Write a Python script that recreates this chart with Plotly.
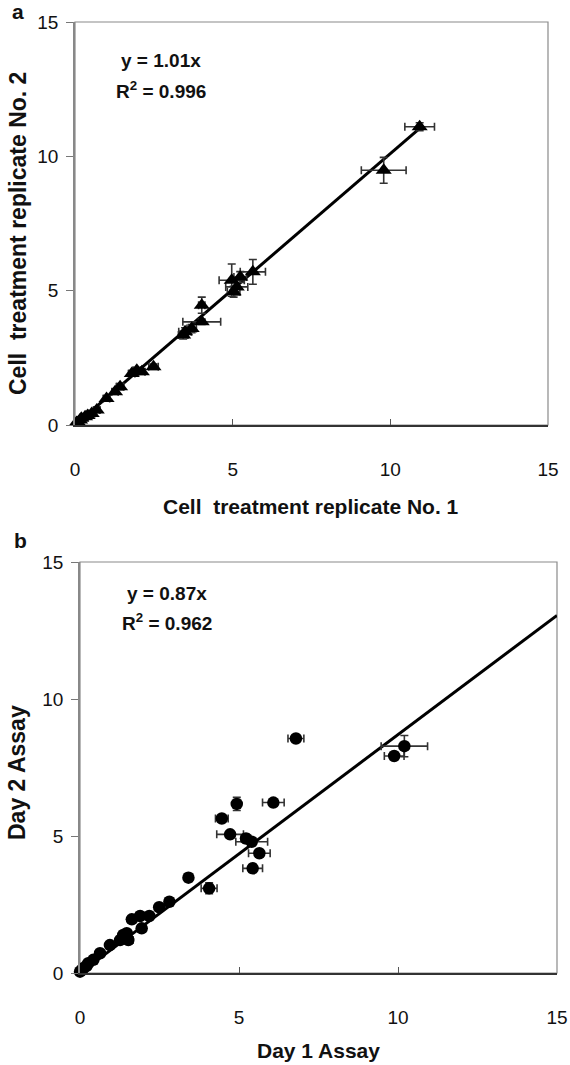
import plotly.graph_objects as go

# ---------------- data ----------------
# Panel a: Cell treatment replicate No.1 (x) vs No.2 (y)
a_x = [0.05, 0.10, 0.16, 0.20, 0.32, 0.40, 0.53, 0.69, 1.00, 1.27, 1.43, 1.80, 1.96, 2.12, 2.49,
       3.43, 3.49, 3.70, 4.02, 4.02, 4.97, 5.03, 5.13, 5.24, 5.64, 9.79, 10.93]
a_y = [0.09, 0.10, 0.19, 0.25, 0.31, 0.35, 0.43, 0.56, 0.99, 1.24, 1.42, 1.92, 2.04, 1.98, 2.17,
       3.35, 3.47, 3.59, 3.84, 4.46, 5.39, 4.96, 5.14, 5.51, 5.70, 9.48, 11.10]
a_xerr = [0.05, 0.05, 0.08, 0.05, 0.10, 0.08, 0.10, 0.10, 0.10, 0.10, 0.12, 0.10, 0.12, 0.10, 0.15,
          0.15, 0.20, 0.15, 0.60, 0.10, 0.40, 0.20, 0.35, 0.20, 0.40, 0.71, 0.47]
a_yerr = [0.05, 0.05, 0.08, 0.05, 0.10, 0.08, 0.10, 0.10, 0.10, 0.10, 0.12, 0.10, 0.10, 0.10, 0.10,
          0.15, 0.15, 0.15, 0.10, 0.30, 0.60, 0.20, 0.30, 0.20, 0.46, 0.48, 0.15]
a_slope = 1.01
a_r2 = "0.996"

# Panel b: Day 1 Assay (x) vs Day 2 Assay (y)
b_x = [0.00, 0.05, 0.10, 0.20, 0.26, 0.42, 0.63, 0.94, 1.26, 1.36, 1.47, 1.52, 1.63, 1.89, 1.94,
       2.18, 2.49, 2.81, 3.41, 4.06, 4.46, 4.72, 4.93, 5.22, 5.40, 5.43, 5.64, 6.08, 6.79, 9.88, 10.20]
b_y = [0.05, 0.10, 0.17, 0.25, 0.36, 0.48, 0.72, 1.02, 1.20, 1.39, 1.45, 1.20, 1.96, 2.08, 1.63,
       2.08, 2.40, 2.60, 3.48, 3.09, 5.64, 5.06, 6.17, 4.91, 4.79, 3.82, 4.37, 6.22, 8.56, 7.92, 8.28]
b_xerr = [0.05, 0.05, 0.05, 0.05, 0.08, 0.10, 0.10, 0.10, 0.10, 0.10, 0.12, 0.15, 0.10, 0.10, 0.12,
          0.10, 0.10, 0.12, 0.10, 0.25, 0.20, 0.42, 0.10, 0.15, 0.50, 0.31, 0.34, 0.34, 0.25, 0.31, 0.73]
b_yerr = [0.05, 0.05, 0.05, 0.05, 0.08, 0.10, 0.10, 0.10, 0.10, 0.10, 0.12, 0.15, 0.10, 0.10, 0.12,
          0.10, 0.10, 0.12, 0.15, 0.20, 0.10, 0.10, 0.24, 0.15, 0.10, 0.15, 0.10, 0.10, 0.10, 0.10, 0.39]
b_slope = 0.87
b_r2 = "0.962"

tick_vals = [0, 5, 10, 15]
tick_text = ["0", "5", "10", "15"]
axis_range = [0, 15]

# ---------------- figure ----------------
W, H = 570, 1065
FONT = "Liberation Sans, Arial, sans-serif"


def px(x):
    return x / W


def py(y):
    return 1 - y / H


fig = go.Figure()

err_style = dict(type="data", color="#333333", thickness=1.6, width=4)

# Panel a
fig.add_trace(go.Scatter(x=[0, max(a_x)], y=[0, a_slope * max(a_x)], mode="lines",
                         line=dict(color="black", width=3), xaxis="x", yaxis="y",
                         showlegend=False, hoverinfo="skip"))
fig.add_trace(go.Scatter(x=a_x, y=a_y, mode="markers", xaxis="x", yaxis="y",
                         marker=dict(symbol="triangle-up", size=14, color="black"),
                         error_x=dict(array=a_xerr, **err_style),
                         error_y=dict(array=a_yerr, **err_style),
                         cliponaxis=False, showlegend=False))

# Panel b
fig.add_trace(go.Scatter(x=[0, axis_range[1]], y=[0, b_slope * axis_range[1]], mode="lines",
                         line=dict(color="black", width=3), xaxis="x2", yaxis="y2",
                         showlegend=False, hoverinfo="skip"))
fig.add_trace(go.Scatter(x=b_x, y=b_y, mode="markers", xaxis="x2", yaxis="y2",
                         marker=dict(symbol="circle", size=12.5, color="black"),
                         error_x=dict(array=b_xerr, **err_style),
                         error_y=dict(array=b_yerr, **err_style),
                         cliponaxis=False, showlegend=False))

tickfont = dict(family=FONT, size=19, color="#111111")


def xaxis_cfg(dom, anchor):
    return dict(domain=dom, anchor=anchor, range=axis_range, tickvals=tick_vals, ticktext=tick_text,
                showgrid=False, zeroline=False, showline=True, linecolor="#333333", linewidth=1.5,
                ticks="inside", ticklen=6, tickcolor="#555555", tickfont=tickfont,
                ticklabelstandoff=26, automargin=False, fixedrange=True)


def yaxis_cfg(dom, anchor):
    return dict(domain=dom, anchor=anchor, range=axis_range, tickvals=tick_vals, ticktext=tick_text,
                showgrid=False, zeroline=False, showline=True, linecolor="#888888", linewidth=1.5,
                ticks="outside", ticklen=7, tickcolor="#777777", tickfont=tickfont,
                ticklabelstandoff=4, automargin=False, fixedrange=True)


# pixel geometry of the two plot areas
a_l, a_r, a_t, a_b = 75, 548, 22, 425
b_l, b_r, b_t, b_b = 80, 557, 562, 973

fig.update_layout(
    width=W, height=H, template="none",
    margin=dict(l=0, r=0, t=0, b=0, pad=0),
    paper_bgcolor="white", plot_bgcolor="white",
    xaxis=xaxis_cfg([px(a_l), px(a_r)], "y"),
    yaxis=yaxis_cfg([py(a_b), py(a_t)], "x"),
    xaxis2=xaxis_cfg([px(b_l), px(b_r)], "y2"),
    yaxis2=yaxis_cfg([py(b_b), py(b_t)], "x2"),
    showlegend=False,
)

# gray frames
for xr, yr in (("x domain", "y domain"), ("x2 domain", "y2 domain")):
    fig.add_shape(type="rect", xref=xr, yref=yr, x0=0, x1=1, y0=0, y1=1,
                  line=dict(color="#8a8a8a", width=1.2), layer="below")

ann = []
bold = dict(family=FONT, size=21, color="#111111")
# axis titles
ann.append(dict(text="<b>Cell\u00a0 treatment replicate No. 1</b>", x=px(311), y=py(506), font=bold))
ann.append(dict(text="<b>Cell\u00a0 treatment replicate No. 2</b>", x=px(18), y=py(234),
                font=dict(family=FONT, size=23, color="#111111"), textangle=-90))
ann.append(dict(text="<b>Day 1 Assay</b>", x=px(318), y=py(1050), font=bold))
ann.append(dict(text="<b>Day 2 Assay</b>", x=px(17), y=py(773),
                font=dict(family=FONT, size=23, color="#111111"), textangle=-90))
# panel letters
ann.append(dict(text="<b>a</b>", x=px(18), y=py(12), font=bold))
ann.append(dict(text="<b>b</b>", x=px(20), y=py(540), font=bold))
# equations
eqfont = dict(family=FONT, size=19, color="#111111")
ann.append(dict(text=f"<b>y = {a_slope:.2f}x</b>", x=px(161), y=py(60), font=eqfont))
ann.append(dict(text=f"<b>R<sup>2</sup> = {a_r2}</b>", x=px(161), y=py(90), font=eqfont))
ann.append(dict(text=f"<b>y = {b_slope:.2f}x</b>", x=px(167), y=py(593), font=eqfont))
ann.append(dict(text=f"<b>R<sup>2</sup> = {b_r2}</b>", x=px(167), y=py(622), font=eqfont))

for a in ann:
    fig.add_annotation(xref="paper", yref="paper", showarrow=False,
                       xanchor="center", yanchor="middle", **a)

fig.write_html("out.html", config={"displayModeBar": False},
               post_script="document.body.style.margin='0';document.body.style.overflow='hidden';")
